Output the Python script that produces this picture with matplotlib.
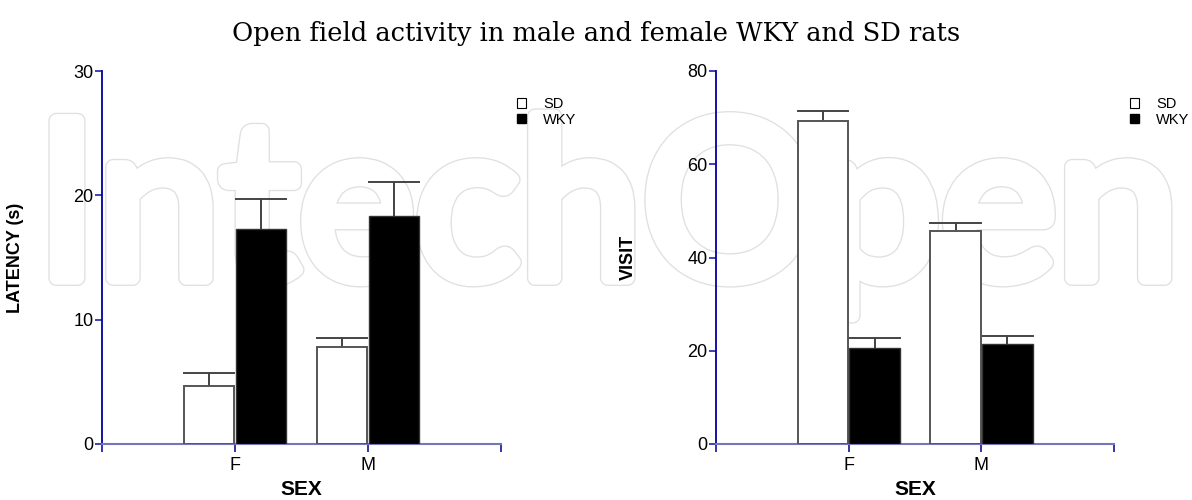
import matplotlib
matplotlib.use("Agg")
import matplotlib.pyplot as plt
import matplotlib.patheffects as pe
from matplotlib.patches import Patch
import numpy as np

plt.rcParams['font.family'] = ['Liberation Sans', 'DejaVu Sans']

sex = ['F', 'M']
groups = ['SD', 'WKY']

latency_sd = [4.7, 7.8]
latency_sd_err = [1.0, 0.7]
latency_wky = [17.3, 18.3]
latency_wky_err = [2.4, 2.8]

visit_sd = [69.2, 45.6]
visit_sd_err = [2.2, 1.9]
visit_wky = [20.6, 21.5]
visit_wky_err = [2.1, 1.6]

fig = plt.figure(figsize=(11.92, 5.0), dpi=100)

# watermark, behind the axes: thick glyphs drawn as a thin grey outline
fig.text(0.51, 0.444, 'IntechOpen', ha='center', va='baseline', fontsize=158,
         family='Lato', color='white', zorder=-5,
         path_effects=[pe.Stroke(linewidth=11.5, foreground='#e0e0e0'),
                       pe.Stroke(linewidth=9.6, foreground='white'), pe.Normal()])


def draw_panel(rect, sd, sd_err, wky, wky_err, ymax, yticks, ylabel, ylab_x):
    ax = fig.add_axes(rect)
    ax.patch.set_alpha(0)
    x = np.arange(1, len(sex) + 1)
    w = 0.38
    ax.bar(x - 0.195, sd, w, color='white', edgecolor='#555555', linewidth=1.4, zorder=3)
    ax.bar(x + 0.195, wky, w, color='black', edgecolor='#333333', linewidth=1.0, zorder=3)
    for xs, vals, errs in [(x - 0.195, sd, sd_err), (x + 0.195, wky, wky_err)]:
        for xi, v, e in zip(xs, vals, errs):
            ax.plot([xi, xi], [v, v + e], color='#222222', lw=1.2, zorder=2)
            ax.plot([xi - w / 2, xi + w / 2], [v + e, v + e], color='#444444', lw=1.4, zorder=2)
    ax.set_xlim(0, 3)
    ax.set_ylim(0, ymax)
    ax.set_xticks([0, 1, 2, 3])
    ax.set_xticklabels(['', 'F', 'M', ''])
    ax.set_yticks(yticks)
    for s in ['top', 'right']:
        ax.spines[s].set_visible(False)
    ax.spines['left'].set_color('#0000a0')
    ax.spines['bottom'].set_color('#7676bc')
    ax.spines['left'].set_linewidth(1.3)
    ax.spines['bottom'].set_linewidth(1.5)
    ax.tick_params(axis='y', colors='#2020a8', labelcolor='black', length=5, width=1.2, labelsize=13, pad=1)
    ax.tick_params(axis='x', colors='#1010a0', labelcolor='black', length=6, width=1.2, labelsize=13, pad=3)
    ax.set_ylabel(ylabel, fontsize=13, fontweight='bold')
    ax.yaxis.set_label_coords(ylab_x, 0.5)
    ax.set_xlabel('SEX', fontsize=15, fontweight='bold')
    ax.xaxis.set_label_coords(0.5, -0.097)
    handles = [Patch(facecolor='white', edgecolor='black', linewidth=0.8, label=groups[0]),
               Patch(facecolor='black', edgecolor='black', label=groups[1])]
    ax.legend(handles=handles, loc='upper left', bbox_to_anchor=(1.04, 0.93), frameon=False,
              fontsize=10.5, handlelength=0.6, handleheight=0.6, labelspacing=0.1,
              handletextpad=1.2, borderpad=0, borderaxespad=0)
    return ax


draw_panel([0.0856, 0.112, 0.3347, 0.746], latency_sd, latency_sd_err, latency_wky, latency_wky_err,
           30, [0, 10, 20, 30], 'LATENCY (s)', -0.195)
draw_panel([0.6007, 0.112, 0.334, 0.746], visit_sd, visit_sd_err, visit_wky, visit_wky_err,
           80, [0, 20, 40, 60, 80], 'VISIT', -0.2)

fig.text(0.5, 0.932, 'Open field activity in male and female WKY and SD rats', ha='center', va='center',
         fontsize=18.5, family='DejaVu Serif')

fig.savefig('out.png', dpi=100)
